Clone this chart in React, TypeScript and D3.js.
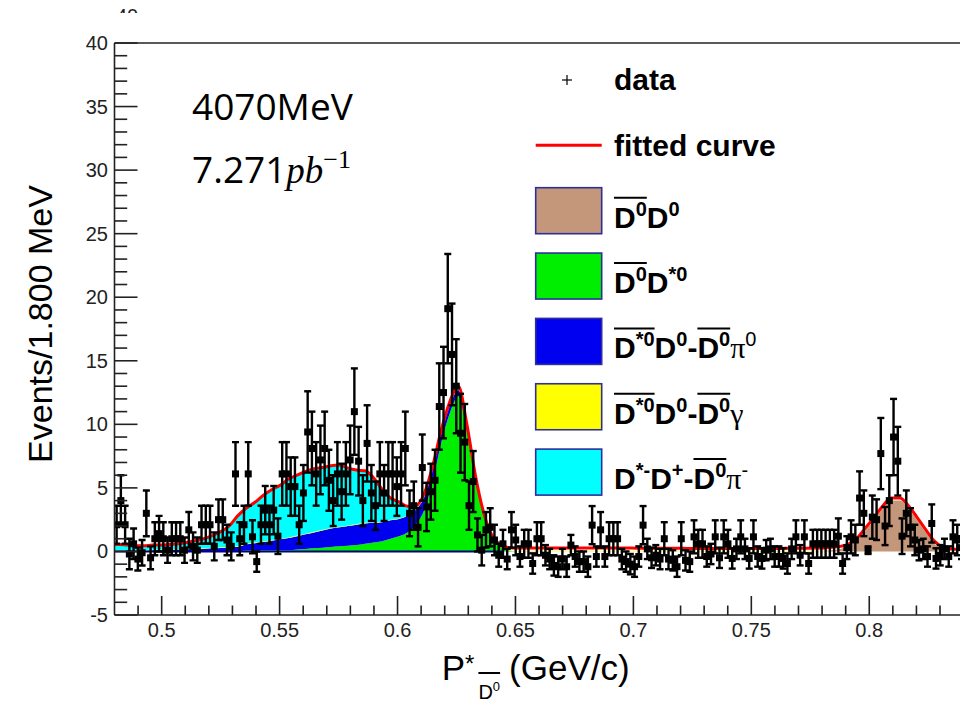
import React, { useLayoutEffect, useRef, useState } from 'react';
import * as d3 from 'd3';

const W = 960;
const H = 702;

// ---- Data histogram: 200 bins of 1.8 MeV from 0.48 GeV/c ----
const binStart = 0.48;
const binWidth = 0.0018;
const dataValues = [
  2.1, 4.0, 2.1, -0.2, 0.6, -0.6, -0.1, 3.0, -0.5, 1.0,
  1.4, 1.0, 0.1, 1.0, 1.0, 1.0, 0.1, 1.7, 0.4, 0.1,
  2.1, 2.1, 2.1, 0.4, 2.5, 2.5, 0.9, 0.4, 6.1, 1.0,
  2.1, 6.1, 1.15, -0.8, 2.1, 3.25, 2.1, 3.25, 1.2, 6.1,
  6.1, 5.1, 5.1, 2.1, 4.6, 9.4, 8.1, 6.1, 7.2, 8.1,
  5.6, 4.0, 6.1, 4.7, 6.1, 7.2, 11.0, 7.1, 4.0, 8.5,
  4.6, 3.6, 6.1, 4.6, 6.1, 6.1, 5.1, 6.1, 8.1, 3.0,
  3.6, 1.9, 6.6, 3.5, 4.7, 5.6, 11.4, 12.5, 19.1, 15.5,
  13.0, 9.3, 8.6, 3.6, 5.5, 1.3, 0.1, 1.7, 1.9, 0.9,
  -0.3, 0.6, -0.6, 1.7, 0.9, -0.4, 0.6, 0.6, -0.95, 1.0,
  1.0, -0.3, -0.6, -1.1, -1.2, -0.6, -1.2, 0.5, -0.4, -0.8,
  -0.8, -1.2, 2.07, -0.4, 1.7, -0.4, 1.0, 1.0, 1.0, -0.6,
  -0.8, -1.0, -1.2, -0.4, 2.07, 0.2, -0.5, -0.3, -0.6, 1.0,
  -0.6, -0.7, -1.2, 1.0, -0.7, -0.8, 1.15, 0.6, 0.6, -0.4,
  -0.2, 1.15, -0.5, 1.15, 0.6, -0.55, 0.2, 1.15, 0.2, -0.55,
  1.15, -0.4, -0.55, 0.1, 0.2, -0.4, -0.4, -0.55, -0.95, 0.2,
  1.15, -0.3, 1.15, -0.95, 0.6, 0.6, 0.6, 0.6, 0.6, 0.6,
  1.2, -0.95, 0.3, 1.15, 0.9, 4.2, 3.0, 0.1, 2.7, 2.5,
  7.7, 2.0, 4.0, 9.0, 7.1, 1.2, 3.0, 1.9, 0.9, 0.1,
  0.2, -0.4, 2.2, -0.55, -0.3, 0.2, -0.4, 1.15, 0.9, 0.3,
];
const dataErrors = [
  1.5, 2.0, 1.5, 1.2, 1.2, 0.9, 1.0, 1.8, 0.9, 1.3,
  1.4, 1.3, 1.0, 1.3, 1.3, 1.3, 1.0, 1.4, 1.1, 1.0,
  1.5, 1.5, 1.5, 1.1, 1.6, 1.6, 1.2, 1.1, 2.5, 1.3,
  1.5, 2.5, 1.3, 0.8, 1.5, 1.9, 1.5, 1.9, 1.4, 2.5,
  2.5, 2.3, 2.3, 1.5, 2.2, 3.2, 2.9, 2.5, 2.7, 2.9,
  2.4, 2.0, 2.5, 2.2, 2.5, 2.7, 3.4, 2.7, 2.0, 3.0,
  2.2, 1.9, 2.5, 2.2, 2.5, 2.5, 2.3, 2.5, 2.9, 1.8,
  1.9, 1.5, 2.6, 1.9, 2.2, 2.4, 3.4, 3.6, 4.3, 4.0,
  3.7, 3.1, 3.0, 1.9, 2.4, 1.3, 1.2, 1.4, 1.5, 1.2,
  0.9, 1.1, 0.8, 1.4, 1.2, 0.8, 1.1, 1.1, 0.8, 1.3,
  1.3, 0.8, 0.8, 0.8, 0.8, 0.8, 0.8, 0.8, 0.8, 0.8,
  0.8, 0.8, 1.5, 0.8, 1.4, 0.8, 1.3, 1.3, 1.3, 0.8,
  0.8, 0.8, 0.8, 0.8, 1.5, 0.8, 0.8, 0.8, 0.8, 1.3,
  0.8, 0.8, 0.8, 1.3, 0.8, 0.8, 1.3, 1.1, 1.1, 0.8,
  0.8, 1.3, 0.8, 1.3, 1.1, 0.8, 0.8, 1.3, 0.8, 0.8,
  1.3, 0.8, 0.8, 0.8, 0.8, 0.8, 0.8, 0.8, 0.8, 0.8,
  1.3, 0.8, 1.3, 0.8, 1.1, 1.1, 1.1, 1.1, 1.1, 1.1,
  1.4, 0.8, 0.9, 1.3, 1.2, 2.1, 1.8, 0.3, 1.7, 1.6,
  2.8, 1.5, 2.0, 3.0, 2.7, 1.4, 1.8, 1.5, 1.2, 0.8,
  0.8, 0.8, 1.5, 0.8, 0.8, 0.8, 0.8, 1.3, 1.2, 0.9,
];

// ---- Fit components: 100 samples, one every 3.6 MeV from 0.48 GeV/c ----
const fitStart = 0.48;
const fitStep = 0.0036;
const fitTotal = [
  0.55, 0.5, 0.45, 0.45, 0.5, 0.5, 0.55, 0.6, 0.7, 0.85,
  1.0, 1.25, 1.55, 2.0, 2.8, 3.4, 3.85, 4.4, 4.85, 5.2,
  5.7, 6.0, 6.3, 6.5, 6.6, 6.75, 6.8, 6.55, 6.4, 6.35,
  5.8, 4.9, 4.2, 3.9, 3.55, 3.6, 4.6, 6.8, 9.6, 11.8,
  13.0, 10.0, 6.0, 3.0, 1.2, 0.5, 0.3, 0.28, 0.28, 0.28,
  0.28, 0.28, 0.28, 0.28, 0.28, 0.28, 0.28, 0.28, 0.28, 0.28,
  0.27, 0.26, 0.26, 0.25, 0.25, 0.25, 0.25, 0.24, 0.24, 0.24,
  0.24, 0.24, 0.24, 0.24, 0.24, 0.24, 0.24, 0.24, 0.24, 0.25,
  0.25, 0.26, 0.27, 0.28, 0.33, 0.4, 0.6, 1.1, 1.9, 2.7,
  3.6, 4.2, 4.2, 3.6, 2.7, 1.75, 0.85, 0.35, 0.2, 0.18,
];
const fitGreen = [
  0, 0, 0, 0, 0, 0, 0, 0, 0, 0,
  0, 0, 0, 0, 0, 0.1, 0.1, 0.1, 0.1, 0.1,
  0.1, 0.15, 0.2, 0.25, 0.3, 0.35, 0.4, 0.45, 0.5, 0.6,
  0.7, 0.8, 1.0, 1.2, 1.5, 2.1, 3.3, 5.6, 8.6, 10.9,
  12.2, 9.4, 5.5, 2.7, 1.0, 0.3, 0.05, 0, 0, 0,
  0, 0, 0, 0, 0, 0, 0, 0, 0, 0,
  0, 0, 0, 0, 0, 0, 0, 0, 0, 0,
  0, 0, 0, 0, 0, 0, 0, 0, 0, 0,
  0, 0, 0, 0, 0, 0, 0, 0, 0, 0,
  0, 0, 0, 0, 0, 0, 0, 0, 0, 0,
];
const fitBlue = [
  0.05, 0.05, 0.05, 0.05, 0.1, 0.1, 0.12, 0.15, 0.18, 0.2,
  0.22, 0.25, 0.28, 0.32, 0.37, 0.45, 0.55, 0.65, 0.75, 0.85,
  0.95, 1.05, 1.15, 1.25, 1.35, 1.45, 1.5, 1.55, 1.6, 1.6,
  1.55, 1.5, 1.45, 1.35, 1.3, 1.2, 1.0, 0.9, 0.7, 0.6,
  0.5, 0.45, 0.35, 0.15, 0.05, 0, 0, 0, 0, 0,
  0, 0, 0, 0, 0, 0, 0, 0, 0, 0,
  0, 0, 0, 0, 0, 0, 0, 0, 0, 0,
  0, 0, 0, 0, 0, 0, 0, 0, 0, 0,
  0, 0, 0, 0, 0, 0, 0, 0, 0, 0,
  0, 0, 0, 0, 0, 0, 0, 0, 0, 0,
];
const fitYellow = [
  0.05, 0.05, 0.05, 0.05, 0.05, 0.05, 0.05, 0.05, 0.05, 0.05,
  0.05, 0.05, 0.05, 0.05, 0.05, 0.05, 0.05, 0.05, 0.05, 0.05,
  0.05, 0.05, 0.05, 0.05, 0.05, 0.05, 0.05, 0.05, 0.05, 0.05,
  0.05, 0.05, 0.05, 0.05, 0.05, 0.05, 0.05, 0.05, 0.05, 0.05,
  0.05, 0.05, 0.05, 0.05, 0.03, 0.03, 0.03, 0.03, 0.03, 0.03,
  0.03, 0.03, 0.03, 0.03, 0.03, 0.03, 0.03, 0.03, 0.03, 0.03,
  0.03, 0.03, 0.03, 0.03, 0.03, 0.03, 0.03, 0.03, 0.03, 0.03,
  0.03, 0.03, 0.03, 0.03, 0.03, 0.03, 0.03, 0.03, 0.03, 0.03,
  0.03, 0.03, 0.03, 0.03, 0, 0, 0, 0, 0, 0,
  0, 0, 0, 0, 0, 0, 0, 0, 0, 0,
];
const fitCyan = [
  0.45, 0.4, 0.35, 0.35, 0.35, 0.35, 0.38, 0.4, 0.47, 0.6,
  0.73, 0.95, 1.22, 1.63, 2.38, 2.8, 3.15, 3.6, 3.95, 4.2,
  4.6, 4.75, 4.9, 4.95, 4.9, 4.9, 4.85, 4.5, 4.25, 4.1,
  3.5, 2.55, 1.7, 1.3, 0.7, 0.25, 0, 0, 0, 0,
  0, 0, 0, 0, 0, 0, 0, 0, 0, 0,
  0, 0, 0, 0, 0, 0, 0, 0, 0, 0,
  0, 0, 0, 0, 0, 0, 0, 0, 0, 0,
  0, 0, 0, 0, 0, 0, 0, 0, 0, 0,
  0, 0, 0, 0, 0, 0, 0, 0, 0, 0,
  0, 0, 0, 0, 0, 0, 0, 0, 0, 0,
];
const fitBrown = [
  0, 0, 0, 0, 0, 0, 0, 0, 0, 0,
  0, 0, 0, 0, 0, 0, 0, 0, 0, 0,
  0, 0, 0, 0, 0, 0, 0, 0, 0, 0,
  0, 0, 0, 0, 0, 0, 0, 0, 0, 0,
  0, 0, 0, 0, 0, 0, 0, 0, 0, 0,
  0, 0, 0, 0, 0, 0, 0, 0, 0, 0,
  0, 0, 0, 0, 0, 0, 0, 0, 0, 0,
  0, 0, 0, 0, 0, 0, 0, 0, 0, 0,
  0, 0, 0, 0, 0.1, 0.2, 0.4, 0.9, 1.7, 2.5,
  3.4, 4.0, 4.0, 3.4, 2.5, 1.55, 0.65, 0.15, 0, 0,
];

// ---- Axes ----
const xMajorTicks = [0.5, 0.55, 0.6, 0.65, 0.7, 0.75, 0.8];
const xTickLabels = ['0.5', '0.55', '0.6', '0.65', '0.7', '0.75', '0.8'];
const yMajorTicks = [-5, 0, 5, 10, 15, 20, 25, 30, 35, 40];
const yTickLabels = ['-5', '0', '5', '10', '15', '20', '25', '30', '35', '40'];

const layerKeys = ['green', 'blue', 'yellow', 'cyan', 'brown'];
const layerColors: Record<string, string> = {
  green: '#00ee00',
  blue: '#0000f0',
  yellow: '#ffff00',
  cyan: '#00ffff',
  brown: '#c4977b',
};

const SANS = '"Liberation Sans", Arial, Helvetica, sans-serif';
const SERIF = '"Liberation Serif", "DejaVu Serif", serif';

type Piece = {
  t: string;
  size: number;
  dy?: number;
  bar?: number;
  barDy?: number;
  family?: string;
  weight?: string | number;
  style?: string;
  gap?: number;
};

function Rich({ x, y, pieces, weight = 'bold', family = SANS, barWidth = 2 }: any) {
  const refs = useRef<(SVGTextElement | null)[]>([]);
  const [widths, setWidths] = useState<number[] | null>(null);
  useLayoutEffect(() => {
    setWidths(refs.current.map((r) => (r ? r.getComputedTextLength() : 0)));
  }, []);
  const ps: Piece[] = pieces;
  const xs: number[] = [];
  const ws: number[] = [];
  let cx = x;
  ps.forEach((p, i) => {
    cx += p.gap || 0;
    xs.push(cx);
    const w = widths ? widths[i] : p.t.length * p.size * 0.6;
    ws.push(w);
    cx += w;
  });
  const bars: { id: number; x1: number; x2: number; dy: number }[] = [];
  ps.forEach((p, i) => {
    if (p.bar == null) return;
    const b = bars.find((bb) => bb.id === p.bar);
    if (b) b.x2 = xs[i] + ws[i];
    else bars.push({ id: p.bar, x1: xs[i], x2: xs[i] + ws[i], dy: p.barDy || 0 });
  });
  return (
    <g>
      {ps.map((p, i) => (
        <text
          key={i}
          ref={(el) => {
            refs.current[i] = el;
          }}
          x={xs[i]}
          y={y + (p.dy || 0)}
          fontFamily={p.family || family}
          fontWeight={p.weight ?? weight}
          fontStyle={p.style || 'normal'}
          fontSize={p.size}
          fill="#000"
        >
          {p.t}
        </text>
      ))}
      {bars.map((b) => (
        <line key={b.id} x1={b.x1} x2={b.x2} y1={y + b.dy} y2={y + b.dy} stroke="#000" strokeWidth={barWidth} />
      ))}
    </g>
  );
}

const M = 30;
const S = 20;
const SUP = -12;
const BAR = -30;
const legendRows: { label: Piece[]; color: string }[] = [
  {
    color: layerColors.brown,
    label: [
      { t: 'D', size: M, bar: 1, barDy: BAR },
      { t: '0', size: S, dy: SUP, bar: 1 },
      { t: 'D', size: M },
      { t: '0', size: S, dy: SUP },
    ],
  },
  {
    color: layerColors.green,
    label: [
      { t: 'D', size: M, bar: 1, barDy: BAR },
      { t: '0', size: S, dy: SUP, bar: 1 },
      { t: 'D', size: M },
      { t: '*0', size: S, dy: SUP },
    ],
  },
  {
    color: layerColors.blue,
    label: [
      { t: 'D', size: M, bar: 1, barDy: BAR },
      { t: '*0', size: S, dy: SUP, bar: 1 },
      { t: 'D', size: M },
      { t: '0', size: S, dy: SUP },
      { t: '-', size: M },
      { t: 'D', size: M, bar: 2, barDy: BAR },
      { t: '0', size: S, dy: SUP, bar: 2 },
      { t: 'π', size: M, family: SERIF, weight: 'normal' },
      { t: '0', size: S, dy: SUP, weight: 'normal' },
    ],
  },
  {
    color: layerColors.yellow,
    label: [
      { t: 'D', size: M, bar: 1, barDy: BAR },
      { t: '*0', size: S, dy: SUP, bar: 1 },
      { t: 'D', size: M },
      { t: '0', size: S, dy: SUP },
      { t: '-', size: M },
      { t: 'D', size: M, bar: 2, barDy: BAR },
      { t: '0', size: S, dy: SUP, bar: 2 },
      { t: 'γ', size: M, family: SERIF, weight: 'normal' },
    ],
  },
  {
    color: layerColors.cyan,
    label: [
      { t: 'D', size: M },
      { t: '*-', size: S, dy: SUP },
      { t: 'D', size: M },
      { t: '+', size: S, dy: SUP },
      { t: '-', size: M },
      { t: 'D', size: M, bar: 2, barDy: BAR },
      { t: '0', size: S, dy: SUP, bar: 2 },
      { t: 'π', size: M, family: SERIF, weight: 'normal' },
      { t: '-', size: S, dy: SUP, weight: 'normal' },
    ],
  },
];

export default function App() {
  const left = 114.5;
  const right = 963.6;
  const top = 43;
  const bottom = 615;
  const x = d3.scaleLinear().domain([0.48, 0.84]).range([left, right]);
  const y = d3.scaleLinear().domain([-5, 40]).range([bottom, top]);

  // samples at step centres, padded at both ends of the range
  const core = fitTotal.map((t, k) => ({
    x: fitStart + (k + 0.5) * fitStep,
    total: t,
    green: fitGreen[k],
    blue: fitBlue[k],
    yellow: fitYellow[k],
    cyan: fitCyan[k],
    brown: fitBrown[k],
  }));
  const rows = [
    { ...core[0], x: fitStart },
    ...core,
    { ...core[core.length - 1], x: fitStart + fitTotal.length * fitStep },
  ];
  const stacked = d3.stack<any>().keys(layerKeys)(rows);
  const area = d3
    .area<any>()
    .x((d) => x(d.data.x))
    .y0((d) => y(d[0]))
    .y1((d) => y(d[1]))
    .curve(d3.curveMonotoneX);
  const line = d3
    .line<any>()
    .x((d) => x(d.x))
    .y((d) => y(d.total))
    .curve(d3.curveMonotoneX);

  const xMinor = d3.range(49, 85).map((v) => v / 100);
  const yMinor = d3.range(-5, 41);
  const axisColor = '#222';

  const legendX = 535.7;
  const legendW = 66;
  const rowY = (i: number) => 80 + i * 65.35;

  return (
    <svg width={W} height={H} style={{ position: 'absolute', left: 0, top: 0, display: 'block', background: '#fff' }}>
      <defs>
        <clipPath id="plot">
          <rect x={left} y={top} width={right - left} height={bottom - top} />
        </clipPath>
        <clipPath id="topcut">
          <rect x={0} y={0} width={300} height={13} />
        </clipPath>
      </defs>
      <rect x={0} y={0} width={W} height={H} fill="#fff" />
      {/* partial label cut at the top of the picture */}
      <text x={127} y={22.5} textAnchor="middle" fontFamily={SANS} fontSize={20} fill={axisColor} clipPath="url(#topcut)">
        40
      </text>

      <g clipPath="url(#plot)">
        {stacked.map((layer) => (
          <path key={layer.key} d={area(layer) || ''} fill={layerColors[layer.key]} stroke="none" />
        ))}
        <line x1={x(0.48)} x2={x(0.6445)} y1={y(0)} y2={y(0)} stroke="#00007a" strokeWidth={2} />
        <path d={line(rows) || ''} fill="none" stroke="#ff0000" strokeWidth={3} />
        {dataValues.map((v, i) => {
          const cx = x(binStart + binWidth * (i + 0.5));
          const e = dataErrors[i];
          const cy = y(v);
          const y1 = y(v + e);
          const y2 = y(v - e);
          const hw = (x(binWidth) - x(0)) / 2;
          return (
            <g key={i} stroke="#000" strokeWidth={2.4}>
              <line x1={cx} x2={cx} y1={y1} y2={y2} />
              <line x1={cx - 3.5} x2={cx + 3.5} y1={y1} y2={y1} />
              <line x1={cx - 3.5} x2={cx + 3.5} y1={y2} y2={y2} />
              <line x1={cx - hw} x2={cx + hw} y1={cy} y2={cy} />
              <rect x={cx - 3.5} y={cy - 3.5} width={7} height={7} fill="#000" stroke="none" />
            </g>
          );
        })}
      </g>

      {/* frame */}
      <line x1={left} x2={left} y1={top} y2={bottom} stroke={axisColor} strokeWidth={1.6} />
      <line x1={left} x2={W + 10} y1={bottom} y2={bottom} stroke={axisColor} strokeWidth={1.6} />
      <line x1={left} x2={W + 10} y1={top} y2={top} stroke={axisColor} strokeWidth={1.6} />

      {/* y ticks */}
      {yMinor.map((v) => (
        <line key={'ym' + v} x1={left} x2={left + (v % 5 === 0 ? 23 : 12.7)} y1={y(v)} y2={y(v)} stroke={axisColor} strokeWidth={1.6} />
      ))}
      {yMajorTicks.map((v, i) => (
        <text key={'yl' + v} x={108} y={y(v) + 7} textAnchor="end" fontFamily={SANS} fontSize={20} fill={axisColor}>
          {yTickLabels[i]}
        </text>
      ))}

      {/* x ticks */}
      {xMinor.map((v) => {
        const major = Math.round(v * 100) % 5 === 0;
        return (
          <line key={'xm' + v} x1={x(v)} x2={x(v)} y1={bottom} y2={bottom - (major ? 19 : 9.5)} stroke={axisColor} strokeWidth={1.6} />
        );
      })}
      {xMajorTicks.map((v, i) => (
        <text key={'xl' + v} x={x(v)} y={637} textAnchor="middle" fontFamily={SANS} fontSize={20} fill={axisColor}>
          {xTickLabels[i]}
        </text>
      ))}

      {/* axis titles */}
      <text transform="translate(52,324) rotate(-90)" textAnchor="middle" fontFamily={SANS} fontSize={34} fill="#000">
        Events/1.800 MeV
      </text>
      <Rich
        x={441.7}
        y={680}
        weight="normal"
        pieces={[
          { t: 'P', size: 35 },
          { t: '*', size: 24, dy: -8 },
          { t: 'D', size: 20, dy: 19, bar: 1, barDy: -7, gap: 4 },
          { t: '0', size: 13, dy: 11, bar: 1 },
          { t: '(GeV/c)', size: 35, gap: 9 },
        ]}
      />

      {/* annotation */}
      <text x={192} y={120} fontFamily='"Open Sans", sans-serif' fontSize={37} fill="#000">
        4070MeV
      </text>
      <text x={192} y={183} fontFamily='"Open Sans", sans-serif' fontSize={37} fill="#000">
        7.271
        <tspan fontFamily={SERIF} fontStyle="italic">pb</tspan>
        <tspan fontFamily={SERIF} fontSize={26} dy={-15}>−1</tspan>
      </text>

      {/* legend */}
      <g>
        <line x1={562} x2={572} y1={rowY(0)} y2={rowY(0)} stroke="#000" strokeWidth={1.2} />
        <line x1={567} x2={567} y1={rowY(0) - 5} y2={rowY(0) + 5} stroke="#000" strokeWidth={1.2} />
        <text x={614} y={rowY(0) + 10} fontFamily={SANS} fontWeight="bold" fontSize={30}>
          data
        </text>
        <line x1={legendX} x2={legendX + legendW} y1={rowY(1)} y2={rowY(1)} stroke="#ff0000" strokeWidth={3} />
        <text x={614} y={rowY(1) + 11} fontFamily={SANS} fontWeight="bold" fontSize={30}>
          fitted curve
        </text>
        {legendRows.map((r, i) => {
          const cy = rowY(i + 2);
          return (
            <g key={i}>
              <rect x={legendX} y={cy - 23} width={legendW} height={46} fill={r.color} stroke="#2e2e9e" strokeWidth={1.6} />
              <Rich x={614} y={cy + 17} pieces={r.label} />
            </g>
          );
        })}
      </g>
    </svg>
  );
}
